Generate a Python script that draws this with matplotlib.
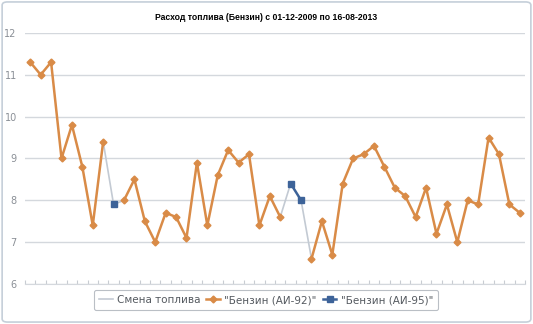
import numpy as np
import matplotlib
matplotlib.use('Agg')
import matplotlib.pyplot as plt
from matplotlib.patches import FancyBboxPatch

# расход по заправкам (л/100км)
rashod = [11.3, 11.0, 11.3, 9.0, 9.8, 8.8, 7.4, 9.4, 7.9, 8.0,
          8.5, 7.5, 7.0, 7.7, 7.6, 7.1, 8.9, 7.4, 8.6, 9.2,
          8.9, 9.1, 7.4, 8.1, 7.6, 8.4, 8.0, 6.6, 7.5, 6.7,
          8.4, 9.0, 9.1, 9.3, 8.8, 8.3, 8.1, 7.6, 8.3, 7.2,
          7.9, 7.0, 8.0, 7.9, 9.5, 9.1, 7.9, 7.7]
# номера точек с АИ-95
ai95 = [8, 25, 26]
# участки АИ-92
ai92_parts = [(0, 7), (9, 24), (27, 47)]
# смена топлива
smena = [(7, 8), (8, 9), (24, 25), (26, 27)]

oranj = '#D98B47'
sin = '#3D6399'
ser = '#C3CAD3'

fig = plt.figure(figsize=(5.33, 3.24), dpi=100)
ax = fig.add_axes([0.047, 0.1235, 0.938, 0.775])

x = np.arange(len(rashod))
y = np.array(rashod)

for a, b in smena:
    ax.plot(x[[a, b]], y[[a, b]], color=ser, lw=1.2, zorder=2)

for a, b in ai92_parts:
    ax.plot(x[a:b+1], y[a:b+1], color=oranj, lw=1.8, marker='D', ms=3.5, zorder=3)

ax.plot(x[8:9], y[8:9], color=sin, lw=1.8, marker='s', ms=4.5, zorder=4)
ax.plot(x[25:27], y[25:27], color=sin, lw=1.8, marker='s', ms=4.5, zorder=4)

ax.set_xlim(-0.5, len(rashod) - 0.5)
ax.set_ylim(6, 12)
ax.set_yticks([6, 7, 8, 9, 10, 11, 12])
ax.yaxis.grid(True, color='#D4D8DD', lw=1)
ax.set_axisbelow(True)
for s in ['top', 'right', 'left']:
    ax.spines[s].set_visible(False)
ax.spines['bottom'].set_color('#D4D8DD')
ax.set_xticks(np.arange(-0.5, len(rashod), 1))
ax.set_xticklabels([])
ax.tick_params(axis='x', direction='in', length=3, color='#C8CCD2')
ax.tick_params(axis='y', length=0, labelsize=7, labelcolor='#8A8F96', pad=6)

fig.text(0.5, 0.947, 'Расход топлива (Бензин) с 01-12-2009 по 16-08-2013',
         ha='center', va='center', fontsize=6.2, fontweight='bold',
         family='Liberation Sans')

# легенда
h1, = ax.plot([], [], color=ser, lw=1.2)
h2, = ax.plot([], [], color=oranj, lw=1.8, marker='D', ms=3.5)
h3, = ax.plot([], [], color=sin, lw=1.8, marker='s', ms=4.5)
leg = fig.legend([h1, h2, h3], ['Смена топлива', '"Бензин (АИ-92)"', '"Бензин (АИ-95)"'],
                 loc='center', bbox_to_anchor=(0.499, 0.074), ncol=3, fontsize=7.5,
                 frameon=True, fancybox=True, handlelength=1.3, handletextpad=0.4,
                 columnspacing=0.6, borderpad=0.5)
leg.get_frame().set_edgecolor('#A9AFB7')
leg.get_frame().set_linewidth(0.8)
for t in leg.get_texts():
    t.set_color('#555A60')

# рамка вокруг всего
fig.patches.append(FancyBboxPatch((0.004, 0.006), 0.992, 0.988,
                                  boxstyle='round,pad=0,rounding_size=0.01',
                                  transform=fig.transFigure, fc='none',
                                  ec='#C5CFD9', lw=1.2))

fig.savefig('out.png', dpi=100)
